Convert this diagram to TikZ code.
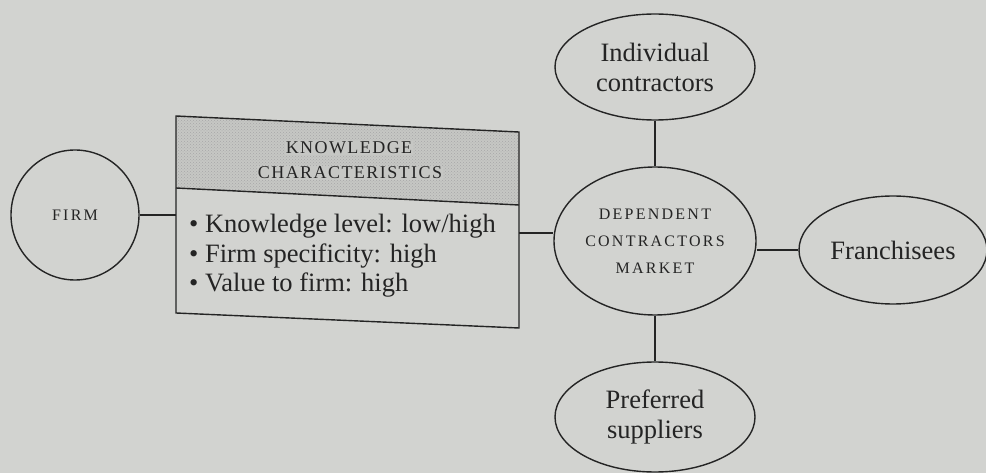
\documentclass[tikz,border=0pt]{standalone}
\usepackage{fontspec}
\setmainfont{Liberation Serif}
\usetikzlibrary{shapes.geometric,patterns}
\definecolor{bg}{RGB}{210,211,208}
\definecolor{hdr}{RGB}{198,199,196}
\definecolor{ink}{RGB}{36,36,36}
\tikzset{
  oval/.style={ellipse, draw=ink, line width=1.4pt, inner sep=0pt, align=center, text=ink},
  conn/.style={draw=ink, line width=1.4pt},
  bodytxt/.style={anchor=west, text=ink, inner sep=0pt, font=\fontsize{26.5}{28}\selectfont},
  hdrtxt/.style={text=ink, inner sep=0pt, font=\fontsize{18}{20}\selectfont\addfontfeatures{LetterSpace=8}},
  big/.style={font=\fontsize{26.5}{30}\selectfont},
  capsl/.style={font=\fontsize{16}{27}\selectfont\addfontfeatures{LetterSpace=14}}
}
\begin{document}
\begin{tikzpicture}[x=1pt,y=-1pt]
\fill[bg] (0,0) rectangle (986,473);
\useasboundingbox (0,0) rectangle (986,473);

% knowledge characteristics box (slightly skewed as in the print)
\coordinate (kTL) at (176,116);
\coordinate (kTR) at (519,132);
\coordinate (kML) at (176,188);
\coordinate (kMR) at (519,205);
\coordinate (kBL) at (176,313);
\coordinate (kBR) at (519,328);
\fill[hdr] (kTL) -- (kTR) -- (kMR) -- (kML) -- cycle;
\fill[pattern=crosshatch dots, pattern color=ink!40] (kTL) -- (kTR) -- (kMR) -- (kML) -- cycle;
\draw[conn] (kTL) -- (kTR) -- (kBR) -- (kBL) -- cycle;
\draw[conn] (kML) -- (kMR);
\node[hdrtxt, fill=hdr, inner sep=1pt] (kh1) at (349,148) {KNOWLEDGE};
\node[hdrtxt, fill=hdr, inner sep=1pt] (kh2) at (350,173) {CHARACTERISTICS};
\node[bodytxt] (kb1) at (189,226) {\textbullet\ Knowledge level: low/high};
\node[bodytxt] (kb2) at (189,256) {\textbullet\ Firm specificity: high};
\node[bodytxt] (kb3) at (189,285) {\textbullet\ Value to firm: high};
\coordinate (kW) at (176,215);
\coordinate (kE) at (519,233);

% ellipses
\node[oval, minimum width=128pt, minimum height=130pt, capsl] (firm) at (75,215) {FIRM};
\node[oval, minimum width=202pt, minimum height=148pt, capsl] (dcm) at (655,241) {DEPENDENT\\CONTRACTORS\\MARKET};
\node[oval, minimum width=200pt, minimum height=106pt, big] (ind) at (655,67) {Individual\\contractors};
\node[oval, minimum width=188pt, minimum height=108pt, big] (fr) at (893,250) {Franchisees};
\node[oval, minimum width=200pt, minimum height=110pt, big] (pref) at (655,417) {Preferred\\suppliers};

% connectors
\draw[conn] (firm) -- (kW);
\draw[conn] (kE) -- (kE -| dcm.west);
\draw[conn] (ind) -- (dcm);
\draw[conn] (dcm) -- (pref);
\draw[conn] (fr.west) -- (fr.west -| dcm.east);
\end{tikzpicture}
\end{document}
